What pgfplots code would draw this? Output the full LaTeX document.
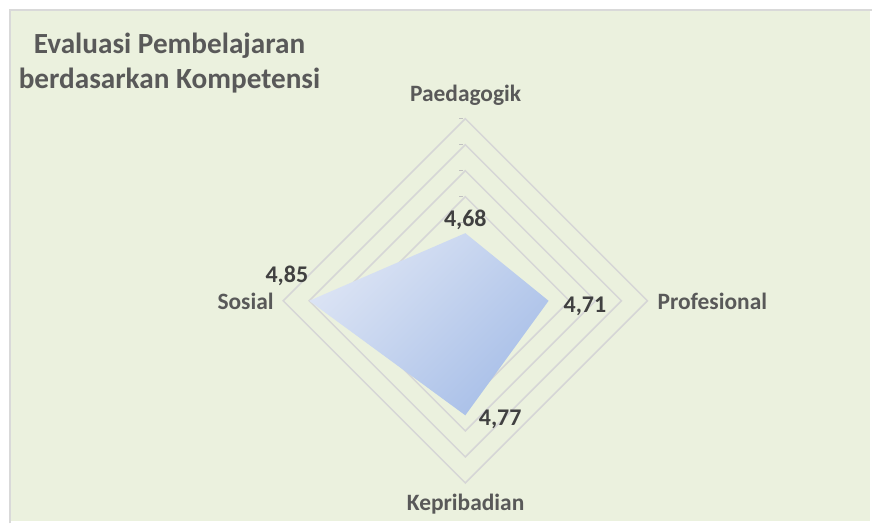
\documentclass[border=0pt]{standalone}
\usepackage{pgfplots}
\pgfplotsset{compat=1.18}
\usepackage{pgfplotstable}
\usepackage{fontspec}
\setmainfont{Carlito}
\definecolor{bgc}{HTML}{EBF1DE}
\definecolor{bordc}{HTML}{D9D9D9}
\definecolor{gridc}{HTML}{D6D6D6}
\definecolor{txtc}{HTML}{595959}
\definecolor{lblc}{HTML}{404040}
\definecolor{filllight}{HTML}{DCE4F4}
\definecolor{filldark}{HTML}{A8BFE8}

% angle (deg) and value of each axis of the radar chart
\pgfplotstableread{
angle value
90  4.68
0   4.71
-90 4.77
-180 4.85
-270 4.68
}\datatable

\begin{document}
\begin{tikzpicture}
\begin{axis}[
  width=873pt, height=523pt, scale only axis, hide axis,
  xmin=0, xmax=873, ymin=0, ymax=523, clip=false,
]
% background
\fill[white] (axis cs:0,0) rectangle (axis cs:873,523);
\fill[bgc] (axis cs:10,0) rectangle (axis cs:873,513);
\draw[bordc, line width=1.2pt] (axis cs:10,-2) -- (axis cs:10,513) -- (axis cs:875,513);
% grid diamonds (4.75, 4.80, 4.85, 4.90); centre (466.7,221.3), 522 px per unit
\pgfplotsinvokeforeach{104.4,130.5,156.6,182.7}{
  \draw[gridc, line width=1.5pt]
    (axis cs:466.7,221.3+#1) -- (axis cs:466.7+#1,221.3) -- (axis cs:466.7,221.3-#1) -- (axis cs:466.7-#1,221.3) -- cycle;
}
% tiny tick marks
\pgfplotsinvokeforeach{0,26.1,52.2,78.3,104.4,130.5,156.6,182.7}{
  \draw[gridc!90!black, line width=0.6pt] (axis cs:460.5,221.3+#1) -- (axis cs:464.5,221.3+#1);
}
% data polygon
\addplot[draw=none, top color=filllight, bottom color=filldark, shading angle=45]
  table[x expr={466.7+522*(\thisrow{value}-4.55)*cos(\thisrow{angle})},
        y expr={221.3+522*(\thisrow{value}-4.55)*sin(\thisrow{angle})}] \datatable;
% data labels
\node[lblc, font=\fontsize{24}{28}\selectfont\bfseries] at (axis cs:466.7,302.3) {4,68};
\node[lblc, font=\fontsize{24}{28}\selectfont\bfseries] at (axis cs:586.7,215.7) {4,71};
\node[lblc, font=\fontsize{24}{28}\selectfont\bfseries] at (axis cs:501.7,102) {4,77};
\node[lblc, font=\fontsize{24}{28}\selectfont\bfseries] at (axis cs:287.7,246.3) {4,85};
% category labels
\node[txtc, font=\fontsize{23.5}{28}\selectfont\bfseries] at (axis cs:467,427) {Paedagogik};
\node[txtc, font=\fontsize{23.5}{28}\selectfont\bfseries, anchor=west] at (axis cs:656,221) {Profesional};
\node[txtc, font=\fontsize{23.5}{28}\selectfont\bfseries] at (axis cs:467,17) {Kepribadian};
\node[txtc, font=\fontsize{23.5}{28}\selectfont\bfseries, anchor=east] at (axis cs:278,221) {Sosial};
% title
\node[txtc, font=\fontsize{29.3}{35}\selectfont\bfseries, align=center] at (axis cs:170,460) {Evaluasi Pembelajaran\\berdasarkan Kompetensi};
\end{axis}
\end{tikzpicture}
\end{document}
